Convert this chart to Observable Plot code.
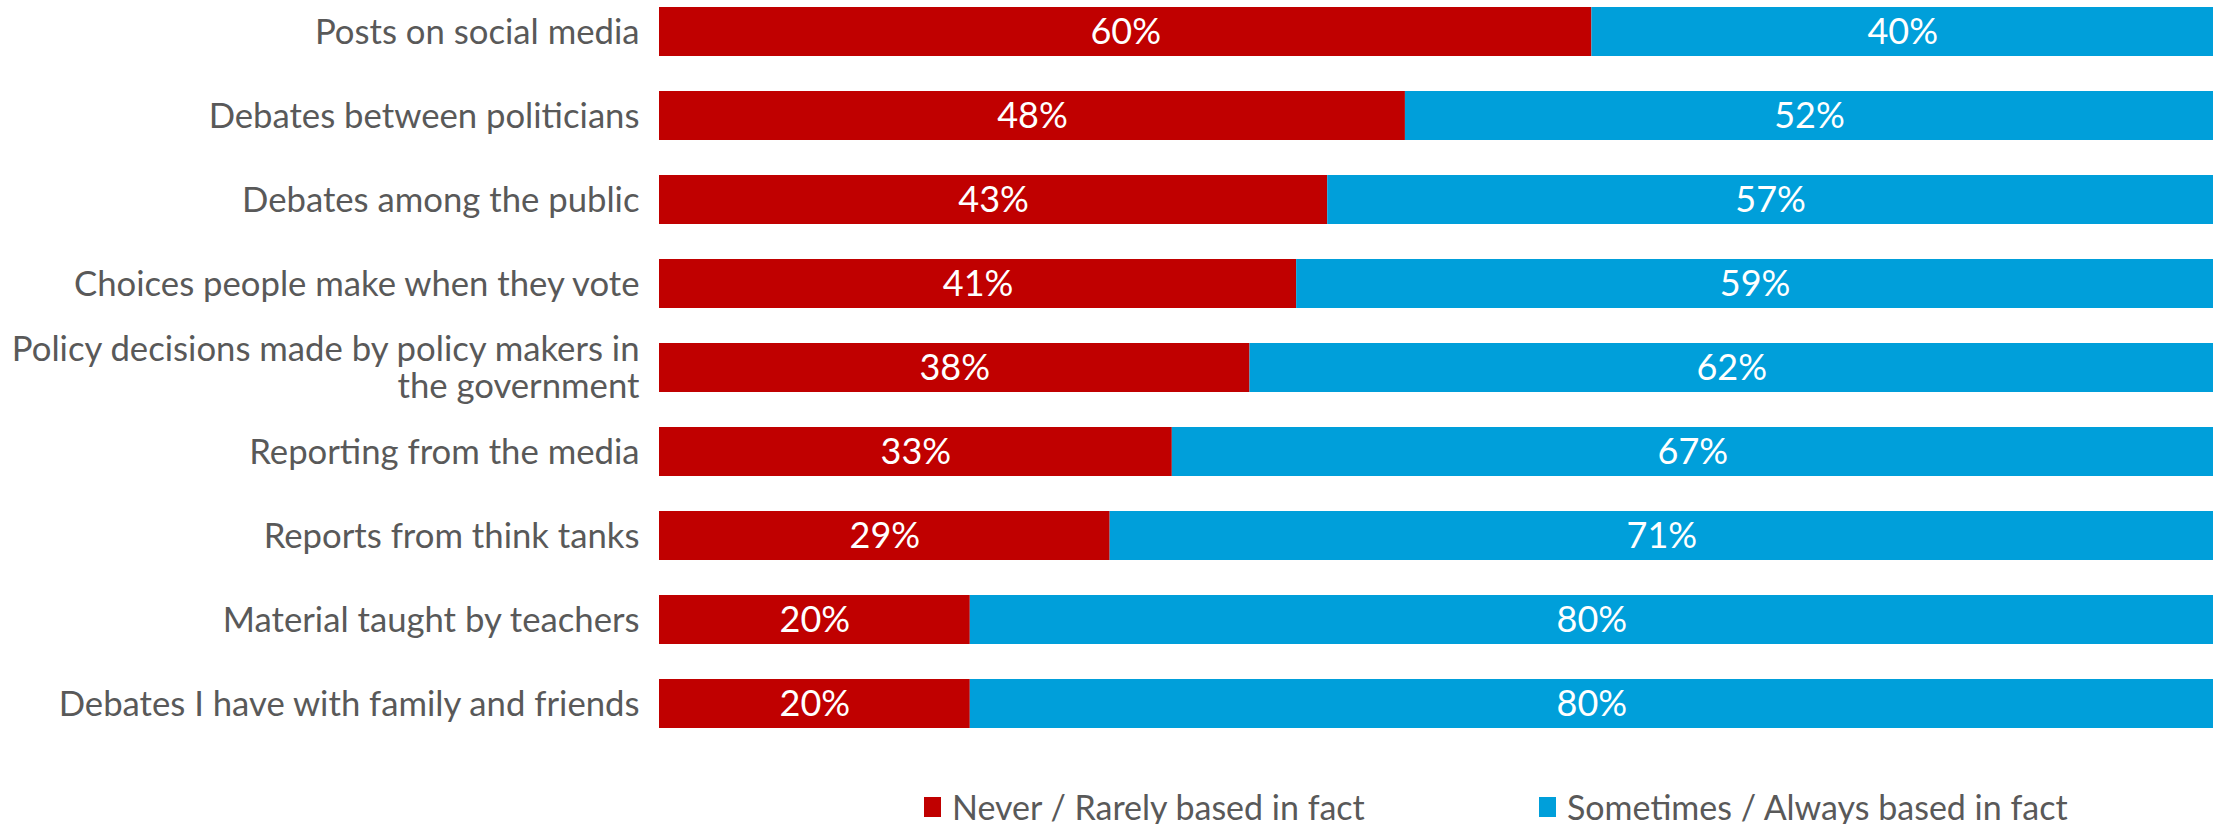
<!DOCTYPE html>
<html>
<head>
<meta charset="utf-8">
<script src="https://cdn.jsdelivr.net/npm/d3@7"></script>
<script src="https://cdn.jsdelivr.net/npm/@observablehq/plot@0.6"></script>
<style>
  html, body { margin: 0; padding: 0; background: #fff; }
  body { width: 2213px; height: 824px; position: relative; overflow: hidden; font-family: Lato, "Open Sans", sans-serif; }
  #chart { position: absolute; left: 0; top: 0; }
  .legend { position: absolute; top: 786px; left: 0; width: 2213px; height: 40px; }
  .item { position: absolute; display: flex; align-items: center; font-size: 34px; color: #595959; white-space: nowrap; }
  .sw { width: 17px; height: 20px; margin-right: 11px; }
</style>
</head>
<body>
<div id="chart"></div>
<div class="legend" id="legend"></div>
<script>
const categories = [
  "Posts on social media",
  "Debates between politicians",
  "Debates among the public",
  "Choices people make when they vote",
  "Policy decisions made by policy makers in\nthe government",
  "Reporting from the media",
  "Reports from think tanks",
  "Material taught by teachers",
  "Debates I have with family and friends"
];
const seriesNames = ["Never / Rarely based in fact", "Sometimes / Always based in fact"];
const neverRarely = [60, 48, 43, 41, 38, 33, 29, 20, 20];
const sometimesAlways = [40, 52, 57, 59, 62, 67, 71, 80, 80];
const colors = ["#C00000", "#009FDA"];

const rows = [];
categories.forEach((c, i) => {
  rows.push({cat: c, series: seriesNames[0], value: neverRarely[i]});
  rows.push({cat: c, series: seriesNames[1], value: sometimesAlways[i]});
});

const chart = Plot.plot({
  width: 2213,
  height: 770,
  marginLeft: 659,
  marginRight: 0,
  marginTop: 0,
  marginBottom: 0,
  style: {fontFamily: "Lato, 'Open Sans', sans-serif", background: "#fff"},
  x: {domain: [0, 100], axis: null},
  y: {domain: categories, range: [-29, 764], padding: 0.42, axis: null},
  color: {domain: seriesNames, range: colors},
  marks: [
    Plot.barX(rows, {x: "value", y: "cat", fill: "series", order: seriesNames}),
    Plot.text(rows, Plot.stackX({x: "value", y: "cat", z: "series", order: seriesNames,
      text: d => d.value + "%", fill: "white", fontSize: 36})),
    Plot.text(categories, {x: 0, y: d => d, text: d => d, textAnchor: "end", dx: -20,
      fontSize: 34.7, fill: "#595959", lineHeight: 1.06})
  ]
});
document.getElementById("chart").appendChild(chart);

const legend = document.getElementById("legend");
const legendLeft = [924, 1539];
seriesNames.forEach((s, i) => {
  const it = document.createElement("div");
  it.className = "item";
  it.style.left = legendLeft[i] + "px";
  const sw = document.createElement("span");
  sw.className = "sw";
  sw.style.background = colors[i];
  const t = document.createElement("span");
  t.textContent = s;
  it.appendChild(sw);
  it.appendChild(t);
  legend.appendChild(it);
});
</script>
</body>
</html>
